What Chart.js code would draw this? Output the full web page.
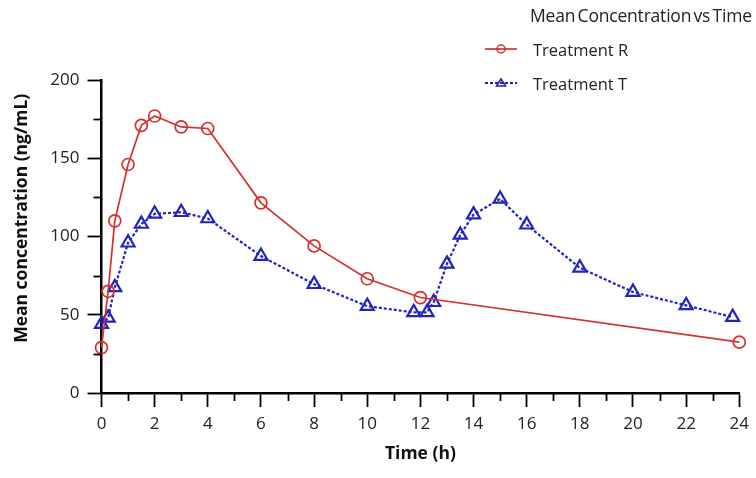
<!DOCTYPE html>
<html>
<head>
<meta charset="utf-8">
<script src="https://cdn.jsdelivr.net/npm/chart.js@4/dist/chart.umd.min.js"></script>
<style>
  html, body { margin: 0; padding: 0; background: #fff; }
  #wrap { position: relative; width: 756px; height: 478px; }
  #c { position: absolute; left: 0; top: 0; }
  #legend { position: absolute; left: 483px; top: 0; font-family: "Open Sans", sans-serif; color: #222; }
  #legend .ttl { position: absolute; left: 47px; top: 3px; font-size: 17.5px; white-space: nowrap; letter-spacing: -0.2px; word-spacing: -2px; }
  #legend .item { position: absolute; left: 0; white-space: nowrap; font-size: 16.5px; display: flex; align-items: center; }
  #legend .item svg { margin-right: 14px; }
</style>
</head>
<body>
<div id="wrap">
  <canvas id="c" width="756" height="478"></canvas>
  <div id="legend"></div>
</div>
<script>
// ---- data ----
const chartTitle = "Mean Concentration vs Time";
const seriesNames = ["Treatment R", "Treatment T"];
const timesR = [0, 0.25, 0.5, 1, 1.5, 2, 3, 4, 6, 8, 10, 12, 24];
const concR  = [29, 65, 110, 146, 171, 177, 170, 169, 121.5, 94, 73, 61, 32.5];
const timesT = [0, 0.25, 0.5, 1, 1.5, 2, 3, 4, 6, 8, 10, 11.75, 12.25, 12.5, 13, 13.5, 14, 15, 16, 18, 20, 22, 23.75];
const concT  = [44, 48, 67.5, 96, 108, 114.5, 115.5, 111.5, 87.5, 69.5, 55.5, 51.5, 51.5, 58, 82.5, 101, 114, 124, 107.5, 80, 64.5, 56, 48.5];
const xTickLabels = ["0","2","4","6","8","10","12","14","16","18","20","22","24"];
const yTickLabels = ["0","50","100","150","200"];
const xTitle = "Time (h)";
const yTitle = "Mean concentration (ng/mL)";

const RED = "#d4312c";
const BLUE = "#2323bd";

const toPts = (xs, ys) => xs.map((x, i) => ({ x: x, y: ys[i] }));

// minor tick plugin
const minorTicks = {
  id: "minorTicks",
  afterDraw(chart) {
    const ctx = chart.ctx;
    const xs = chart.scales.x, ys = chart.scales.y;
    ctx.save();
    ctx.strokeStyle = "#000";
    ctx.lineWidth = 1.8;
    xs.ticks.forEach(t => {
      if (!xTickLabels.includes(String(t.value))) {
        const px = Math.round(xs.getPixelForValue(t.value)) + 0.5;
        ctx.beginPath(); ctx.moveTo(px, ys.bottom); ctx.lineTo(px, ys.bottom + 8); ctx.stroke();
      }
    });
    ys.ticks.forEach(t => {
      if (!yTickLabels.includes(String(t.value))) {
        const py = Math.round(ys.getPixelForValue(t.value)) + 0.5;
        ctx.beginPath(); ctx.moveTo(xs.left, py); ctx.lineTo(xs.left - 8, py); ctx.stroke();
      }
    });
    ctx.restore();
  }
};

const tickFont = { family: "'Open Sans', sans-serif", size: 17 };
const titleFont = { family: "'Open Sans', sans-serif", size: 17.5, weight: "bold" };

const chart = new Chart(document.getElementById("c"), {
  type: "line",
  data: {
    datasets: [
      {
        label: seriesNames[0],
        data: toPts(timesR, concR),
        borderColor: RED, backgroundColor: "rgba(0,0,0,0)",
        borderWidth: 1.7,
        pointStyle: "circle", pointRadius: 6, pointBorderWidth: 1.7,
        pointBorderColor: RED, pointBackgroundColor: "rgba(255,255,255,0)",
        tension: 0, clip: false
      },
      {
        label: seriesNames[1],
        data: toPts(timesT, concT),
        borderColor: BLUE, backgroundColor: "rgba(0,0,0,0)",
        borderWidth: 2.2, borderDash: [3, 2],
        pointStyle: "triangle", pointRadius: 7.5, pointBorderWidth: 2.2,
        pointBorderColor: BLUE, pointBackgroundColor: "rgba(255,255,255,0)",
        tension: 0, clip: false
      }
    ]
  },
  options: {
    responsive: false,
    animation: false,
    layout: { padding: { left: 0, top: 80, right: 14, bottom: 0 } },
    plugins: { legend: { display: false }, title: { display: false }, tooltip: { enabled: false } },
    scales: {
      x: {
        type: "linear", min: 0, max: 24,
        border: { display: true, color: "#000", width: 2.5 },
        grid: {
          drawOnChartArea: false, drawTicks: true, tickLength: 14,
          tickColor: (c) => xTickLabels.includes(String(c.tick && c.tick.value)) ? "#000" : "rgba(0,0,0,0)",
          tickWidth: 1.8
        },
        ticks: {
          stepSize: 1, autoSkip: false, maxRotation: 0, color: "#222", font: tickFont, padding: 7,
          callback: (v) => xTickLabels.includes(String(v)) ? String(v) : ""
        },
        title: { display: true, text: xTitle, color: "#111", font: titleFont, padding: { top: 0, bottom: 13 } },
        afterFit: (s) => { s.height = 85; }
      },
      y: {
        type: "linear", min: 0, max: 200,
        border: { display: true, color: "#000", width: 2.5 },
        grid: {
          drawOnChartArea: false, drawTicks: true, tickLength: 14,
          tickColor: (c) => yTickLabels.includes(String(c.tick && c.tick.value)) ? "#000" : "rgba(0,0,0,0)",
          tickWidth: 1.8
        },
        ticks: {
          stepSize: 25, autoSkip: false, color: "#222", font: tickFont, padding: 8,
          callback: (v) => yTickLabels.includes(String(v)) ? String(v) : ""
        },
        title: { display: true, text: "\u00a0\u00a0\u00a0\u00a0\u00a0\u00a0\u00a0\u00a0" + yTitle, color: "#111", font: titleFont, padding: { top: 12, bottom: 0 } },
        afterFit: (s) => { s.width = 101.5; }
      }
    }
  },
  plugins: [minorTicks]
});

// ---- HTML legend built from the chart's datasets ----
(function buildLegend() {
  const lg = document.getElementById("legend");
  const t = document.createElement("div");
  t.className = "ttl"; t.textContent = chartTitle; lg.appendChild(t);
  const tops = [37, 71];
  chart.data.datasets.forEach((ds, i) => {
    const it = document.createElement("div");
    it.className = "item"; it.style.top = tops[i] + "px";
    const c = ds.borderColor;
    const dash = ds.borderDash ? 'stroke-dasharray="3 2"' : "";
    const marker = ds.pointStyle === "circle"
      ? `<circle cx="18" cy="12" r="4" fill="none" stroke="${c}" stroke-width="1.5"/>`
      : `<polygon points="18,8 22.5,15 13.5,15" fill="none" stroke="${c}" stroke-width="1.6"/>`;
    it.innerHTML = `<svg width="36" height="24"><line x1="2" y1="12" x2="34" y2="12" stroke="${c}" stroke-width="${ds.borderWidth}" ${dash}/>${marker}</svg><span>${ds.label}</span>`;
    lg.appendChild(it);
  });
})();
</script>
</body>
</html>
